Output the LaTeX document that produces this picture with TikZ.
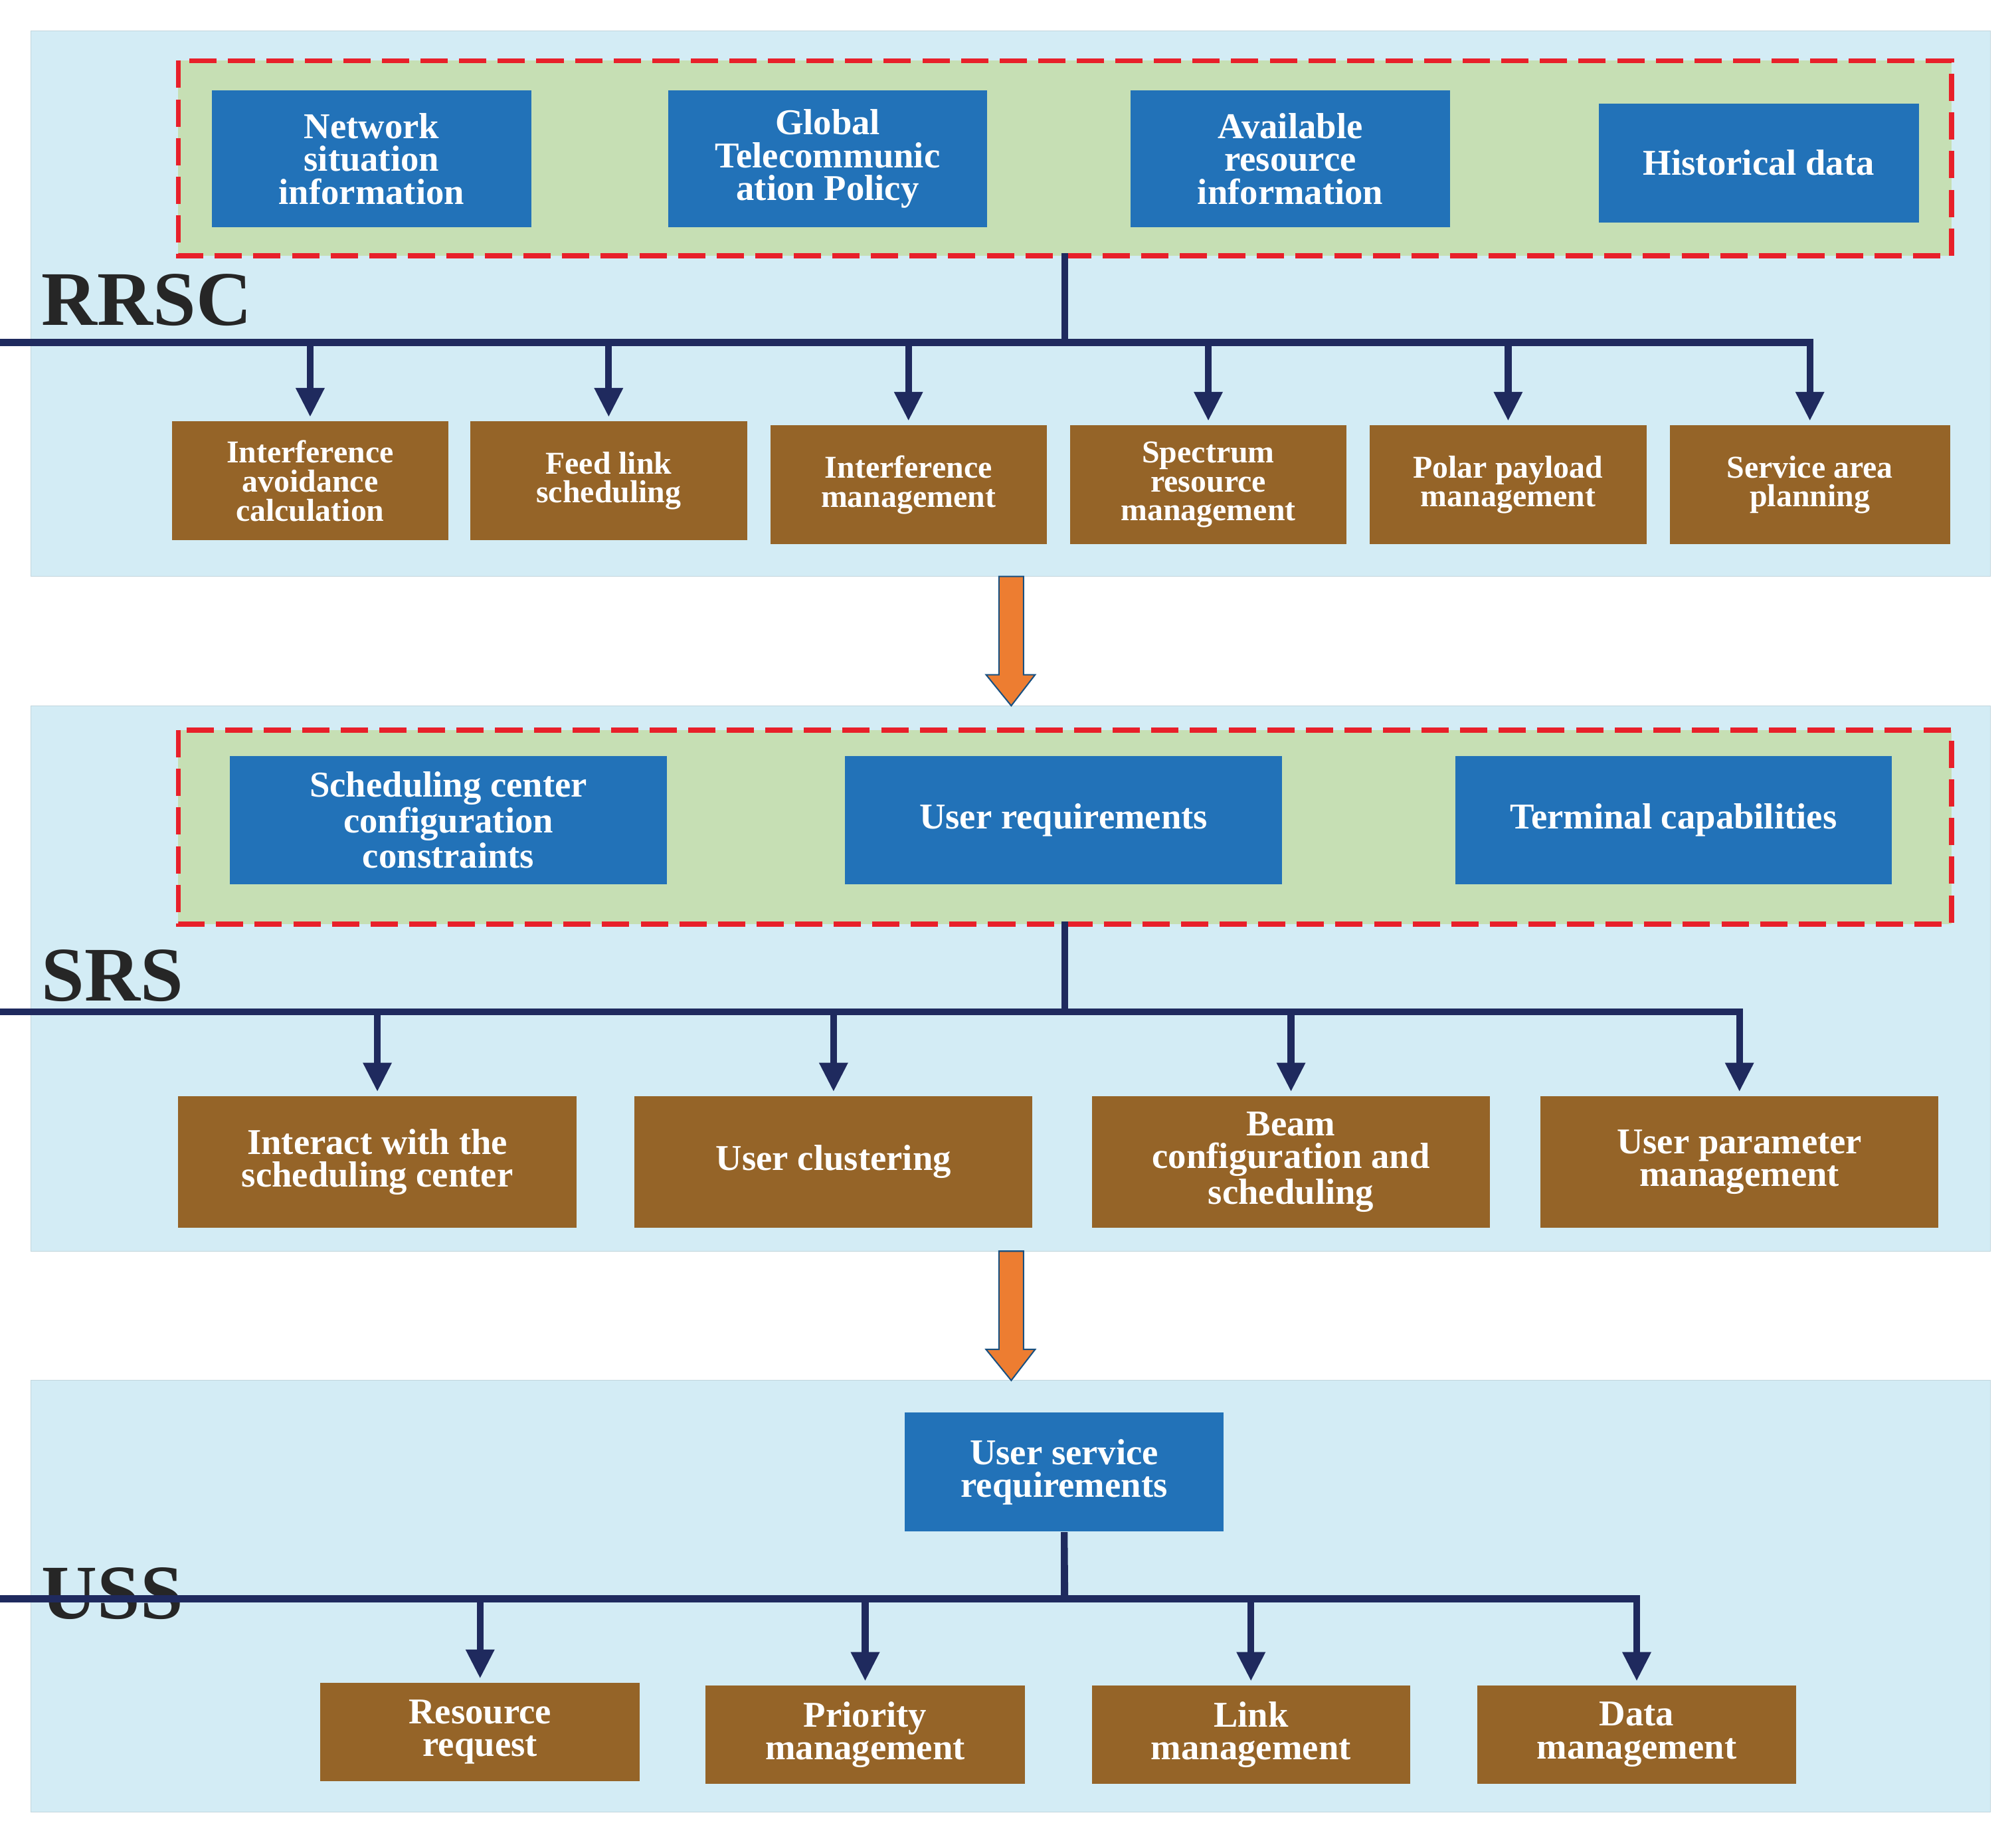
\documentclass[tikz,border=0pt]{standalone}
\usepackage{fontspec}
\setmainfont{Liberation Serif}
\usetikzlibrary{arrows.meta}
\definecolor{panel}{HTML}{D3ECF5}
\definecolor{grn}{HTML}{C6DFB4}
\definecolor{blu}{HTML}{2272B8}
\definecolor{brn}{HTML}{956428}
\definecolor{navy}{HTML}{1F2A5E}
\definecolor{org}{HTML}{ED7D31}
\definecolor{rd}{HTML}{E8202A}
\newcommand\bnode[7]{\node[#1, minimum width={(#4-#3)*0.02cm}, minimum height={(#6-#5)*0.02cm}] (#2) at ({(#3+#4)/2},{(#5+#6)/2}) {#7};}
\tikzset{
 x=0.02cm,y=-0.02cm,
 bb/.style={fill=blu,text=white,font=\fontsize{16}{14.5}\selectfont\bfseries,align=center,inner sep=0pt},
 br/.style={fill=brn,text=white,font=\fontsize{14}{12.8}\selectfont\bfseries,align=center,inner sep=0pt},
 br2/.style={fill=brn,text=white,font=\fontsize{16}{14.5}\selectfont\bfseries,align=center,inner sep=0pt},
 pan/.style={fill=panel,draw=panel!80!gray,line width=0.3pt},
 grnbox/.style={fill=grn,draw=rd,line width=2.2pt,dash pattern=on 12pt off 5pt},
 tree/.style={draw=navy,line width=3pt,-{Triangle[length=0.45cm,width=0.42cm]}},
 lab/.style={font=\fontsize{34}{34}\selectfont\bfseries,text=black!85,anchor=west,inner sep=0pt},
 oarr/.style={fill=org,draw=blu!70!black,line width=0.6pt}
}
\begin{document}
\begin{tikzpicture}
\useasboundingbox (0,0) rectangle (1560,1415);
% panels
\draw[pan] (24,24) rectangle (1540,446);
\draw[pan] (24,546) rectangle (1540,968);
\draw[pan] (24,1068) rectangle (1540,1402);
% RRSC
\draw[grnbox] (138,47) rectangle (1510,198);
\node[lab] (l1) at (32,232) {RRSC};
\bnode{bb}{a1}{164}{411}{70}{176}{Network\\situation\\information}
\bnode{bb}{a2}{517}{764}{70}{176}{Global\\Telecommunic\\ation Policy}
\bnode{bb}{a3}{875}{1122}{70}{176}{Available\\resource\\information}
\bnode{bb}{a4}{1237}{1485}{80}{172}{Historical data}
\coordinate (t1) at (824,196);
\bnode{br}{c1}{133}{347}{326}{418}{Interference\\avoidance\\calculation}
\bnode{br}{c2}{364}{578}{326}{418}{Feed link\\scheduling}
\bnode{br}{c3}{596}{810}{329}{421}{Interference\\management}
\bnode{br}{c4}{828}{1042}{329}{421}{Spectrum\\resource\\management}
\bnode{br}{c5}{1060}{1274}{329}{421}{Polar payload\\management}
\bnode{br}{c6}{1292}{1509}{329}{421}{Service area\\planning}
\draw[draw=navy,line width=3pt] (t1) -- (824,265);
\foreach \n in {c1,c2,c3,c4,c5,c6}{\draw[tree] (t1) |- (0,265) -| ([yshift=0.06cm]\n.north);}
% orange arrow 1
\draw[oarr] (773,446) -- (792,446) -- (792,522) -- (801,522) -- (782.5,546) -- (763,522) -- (773,522) -- cycle;
% SRS
\draw[grnbox] (138,565) rectangle (1510,715);
\node[lab] (l2) at (32,755) {SRS};
\bnode{bb}{b1}{178}{516}{585}{684}{Scheduling center\\configuration\\constraints}
\bnode{bb}{b2}{654}{992}{585}{684}{User requirements}
\bnode{bb}{b3}{1126}{1464}{585}{684}{Terminal capabilities}
\coordinate (t2) at (824,713);
\bnode{br2}{d1}{138}{446}{848}{950}{Interact with the\\scheduling center}
\bnode{br2}{d2}{491}{799}{848}{950}{User clustering}
\bnode{br2}{d3}{845}{1153}{848}{950}{Beam\\configuration and\\scheduling}
\bnode{br2}{d4}{1192}{1500}{848}{950}{User parameter\\management}
\draw[draw=navy,line width=3pt] (t2) -- (824,783);
\foreach \n in {d1,d2,d3,d4}{\draw[tree] (t2) |- (0,783) -| ([yshift=0.06cm]\n.north);}
% orange arrow 2
\draw[oarr] (773,968) -- (792,968) -- (792,1044) -- (801,1044) -- (782.5,1068) -- (763,1044) -- (773,1044) -- cycle;
% USS
\node[lab] (l3) at (32,1233) {USS};
\bnode{bb}{u0}{700}{947}{1093}{1185}{User service\\requirements}
\bnode{br2}{e1}{248}{495}{1302}{1378}{Resource\\request}
\bnode{br2}{e2}{546}{793}{1304}{1380}{Priority\\management}
\bnode{br2}{e3}{845}{1091}{1304}{1380}{Link\\management}
\bnode{br2}{e4}{1143}{1390}{1304}{1380}{Data\\management}
\draw[draw=navy,line width=3pt] (u0.south) -- (824,1237);
\foreach \n in {e1,e2,e3,e4}{\draw[tree] (u0.south) |- (0,1237) -| ([yshift=0.06cm]\n.north);}
\end{tikzpicture}
\end{document}
